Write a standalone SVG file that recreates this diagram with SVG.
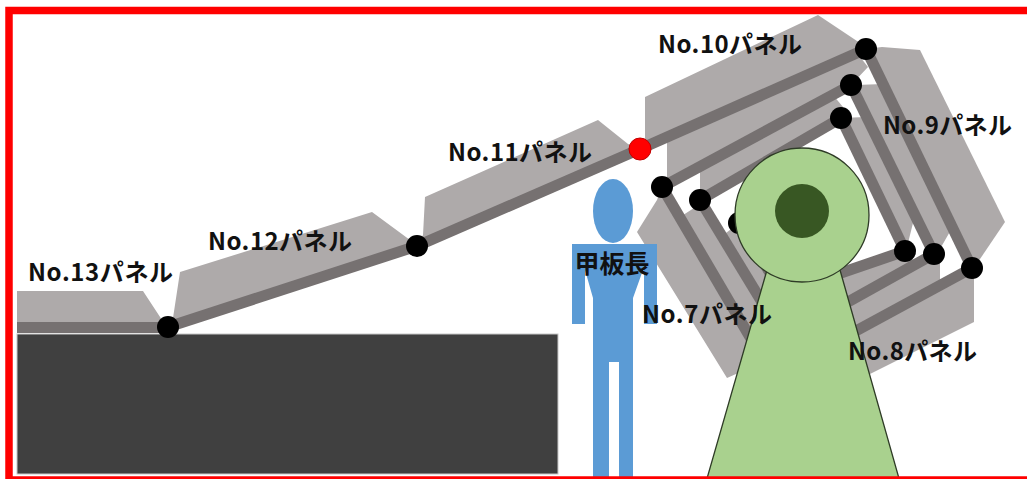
<svg xmlns="http://www.w3.org/2000/svg" width="1027" height="479" viewBox="0 0 1027 479">
  <style>
    .body { fill: #AEAAAA; }
    .strip { fill: none; stroke: #767171; stroke-width: 11; stroke-linecap: butt; }
    .joint { fill: #000000; }
    .joint-red { fill: #FF0000; stroke: #C00000; stroke-width: 1; }
    .label { font-family: "Noto Sans CJK JP", "Noto Sans", sans-serif; font-size: 24px; font-weight: bold; fill: #111111; }
    .person { fill: #5B9BD5; }
  </style>

  <rect x="0" y="0" width="1027" height="479" fill="#FFFFFF"/>

  <!-- deck / ground -->
  <g id="ground">
    <rect x="17" y="334" width="541" height="140" fill="#404040" stroke="#C8C8C8" stroke-width="1"/>
  </g>

  <!-- panel bodies -->
  <g id="panel-bodies">
    <polygon id="p13-body" class="body" points="17,291 143,291 162,320 168,327 17,327"/>
    <polygon id="p12-body" class="body" points="168,327 173,318 180,272 372,212 410,240 417,246"/>
    <polygon id="p11-body" class="body" points="417,246 423,235 425,197 598,120 628,144 640,149"/>
    <polygon id="p10-outer-body" class="body" points="640,149 645,141 645,97 818,15 860,43 866,49"/>
    <polygon id="p9-outer-body" class="body" points="866,49 882,47 920,50 1005,222 978,262 972,268"/>
    <polygon id="p8-outer-body" class="body" points="972,268 974,276 974,322 840,389 840,339"/>
    <polygon id="p10-mid-body" class="body" points="662,187 667,180 667,137 857,53 868,67 851,85"/>
    <polygon id="p9-mid-body" class="body" points="851,85 856,85 883,84 952,228 940,249 934,254"/>
    <polygon id="p8-mid-body" class="body" points="934,254 940,260 940,285 830,345 830,312"/>
    <polygon id="p10-in-body" class="body" points="700,200 700,166 833,95 843,107 841,118"/>
    <polygon id="p9-in-body" class="body" points="841,118 866,117 915,215 908,243 905,251"/>
    <polygon id="p8-in-body" class="body" points="905,251 915,262 840,305 835,275"/>
    <polygon id="p7-outer-body" class="body" points="662,187 657,200 637,232 727,378 745,370 761,355"/>
    <polygon id="p7-mid-body" class="body" points="700,200 694,208 680,217 755,345 779,330"/>
    <polygon id="p7-in-body" class="body" points="739,223 722,236 770,320 790,300"/>
  </g>

  <!-- hinge strips -->
  <g id="connectors">
    <rect x="17" y="322" width="151" height="11" fill="#767171"/>
    <path class="strip" d="M168 327 L417 246"/>
    <path class="strip" d="M417 246 L640 149"/>
    <path class="strip" d="M640 149 L866 49"/>
    <path class="strip" d="M866 49 L972 268"/>
    <path class="strip" d="M972 268 L830 345"/>
    <path class="strip" d="M662 187 L851 85"/>
    <path class="strip" d="M851 85 L934 254"/>
    <path class="strip" d="M934 254 L830 312"/>
    <path class="strip" d="M700 200 L841 118"/>
    <path class="strip" d="M841 118 L905 251"/>
    <path class="strip" d="M905 251 L835 275"/>
    <path class="strip" d="M662 187 L770 371"/>
    <path class="strip" d="M700 200 L785 340"/>
    <path class="strip" d="M739 223 L790 305"/>
  </g>

  <!-- boatswain figure -->
  <g id="boatswain">
    <ellipse class="person" cx="613" cy="211" rx="20" ry="32"/>
    <rect class="person" x="572" y="244" width="85" height="26"/>
    <rect class="person" x="572" y="244" width="13" height="80"/>
    <rect class="person" x="644" y="244" width="13" height="80"/>
    <polygon class="person" points="585,270 643,270 633,298 633,362 593,362 593,298"/>
    <rect class="person" x="593" y="360" width="16" height="119"/>
    <rect class="person" x="619" y="360" width="14" height="119"/>
    <text x="612" y="273" text-anchor="middle" font-family="Noto Sans CJK JP, sans-serif" font-size="25" font-weight="bold" fill="#111111">甲板長</text>
  </g>

  <!-- hinge pins -->
  <g id="joints">
    <circle class="joint" cx="168" cy="327" r="11"/>
    <circle class="joint" cx="417" cy="246" r="11"/>
    <circle class="joint-red" cx="640" cy="149" r="11"/>
    <circle class="joint" cx="866" cy="49" r="11"/>
    <circle class="joint" cx="851" cy="85" r="11"/>
    <circle class="joint" cx="841" cy="118" r="11"/>
    <circle class="joint" cx="662" cy="187" r="11"/>
    <circle class="joint" cx="700" cy="200" r="11"/>
    <circle class="joint" cx="739" cy="223" r="11"/>
    <circle class="joint" cx="905" cy="251" r="11"/>
    <circle class="joint" cx="934" cy="254" r="11"/>
    <circle class="joint" cx="972" cy="268" r="11"/>
  </g>

  <!-- crane post -->
  <g id="crane">
    <polygon points="767,270 840,270 900,482 706,482" fill="#A9D18E" stroke="#2E3B26" stroke-width="1.3"/>
    <circle cx="802" cy="215" r="67" fill="#A9D18E" stroke="#2E3B26" stroke-width="1.3"/>
    <circle cx="802" cy="211" r="27" fill="#385723"/>
  </g>

  <!-- panel labels -->
  <g id="labels">
    <text class="label" x="28" y="281" textLength="145">No.13パネル</text>
    <text class="label" x="208" y="250" textLength="144">No.12パネル</text>
    <text class="label" x="448" y="161" textLength="144">No.11パネル</text>
    <text class="label" x="658" y="53" textLength="144">No.10パネル</text>
    <text class="label" x="883" y="134" textLength="129">No.9パネル</text>
    <text class="label" x="642" y="323" textLength="130">No.7パネル</text>
    <text class="label" x="848" y="360" textLength="129">No.8パネル</text>
  </g>

  <!-- frame -->
  <rect x="9" y="10.5" width="1030" height="469.5" fill="none" stroke="#FF0000" stroke-width="7.5"/>
</svg>
